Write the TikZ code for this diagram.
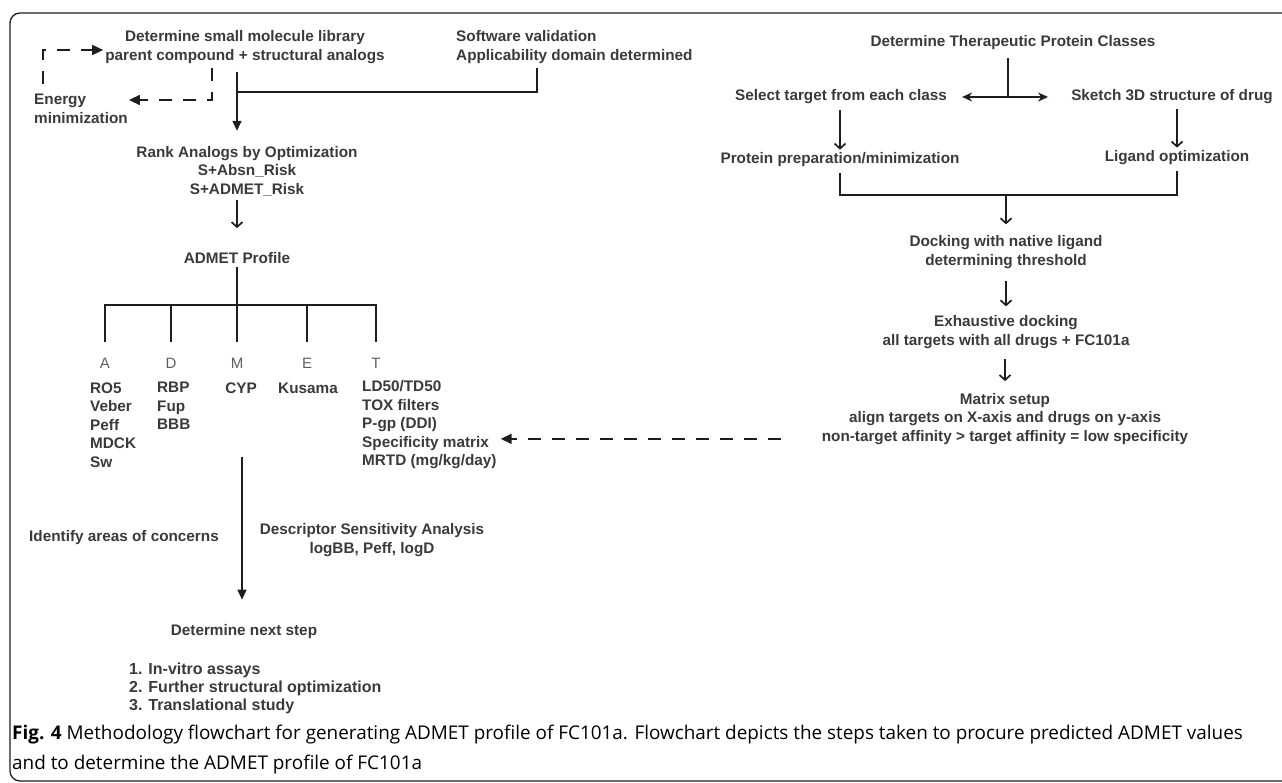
\documentclass[tikz,border=0pt]{standalone}
\usepackage{fontspec}
\setmainfont{Liberation Sans}
\newfontfamily\capfont{Open Sans}
\usepackage{tikz}
\usetikzlibrary{arrows.meta,positioning}
\definecolor{ink}{RGB}{58,58,58}
\definecolor{wire}{RGB}{30,30,30}
\definecolor{lightink}{RGB}{95,95,95}

\begin{document}
\begin{tikzpicture}[x=1pt, y=-1pt,
    step text/.style={font=\bfseries\fontsize{15.3}{18.5}\selectfont, text=ink,
        align=center, inner sep=1pt},
    letter/.style={font=\fontsize{15}{18}\selectfont, text=lightink, inner sep=1pt},
    bigflow/.style={-{Triangle[length=10pt, width=9pt]}, line width=1.4pt, wire},
    downflow/.style={-{Straight Barb[length=5pt, width=11pt]}, line width=1.7pt, wire},
    sideflow/.style={-{Stealth[length=10pt, width=9pt]}, line width=1.6pt, wire},
    dashflow/.style={-{Triangle[length=11pt, width=10pt]}, line width=1.6pt, wire,
        dash pattern=on 13pt off 11pt},
    branch/.style={line width=1.5pt, wire}
]
\useasboundingbox (0,0) rectangle (1282,783);
\draw[line width=1.3pt, wire, rounded corners=10pt] (10,13) rectangle (1310,781);

% left column
\node[step text] (lib) at (245,47)
    {Determine small molecule library\\parent compound + structural analogs};
\node[step text, anchor=west, align=left] (sw) at (455,47)
    {Software validation\\Applicability domain determined};
\node[step text, anchor=west, align=left] (energy) at (33,109)
    {Energy\\minimization};
\node[step text] (rank) at (247,171)
    {Rank Analogs by Optimization\\S+Absn\_Risk\\S+ADMET\_Risk};
\node[step text] (admet) at (237,258) {ADMET Profile};

\node[letter] (la) at (105,363) {A};
\node[letter] (ld) at (171,363) {D};
\node[letter] (lm) at (237,363) {M};
\node[letter] (le) at (307,363) {E};
\node[letter] (lt) at (376,363) {T};

\node[step text, anchor=west, align=left] (alist) at (89,425)
    {RO5\\Veber\\Peff\\MDCK\\Sw};
\node[step text, anchor=west, align=left] (dlist) at (156,406)
    {RBP\\Fup\\BBB};
\node[step text] (mlist) at (241,388) {CYP};
\node[step text] (elist) at (308,388) {Kusama};
\node[step text, anchor=west, align=left] (tlist) at (361,425)
    {LD50/TD50\\TOX filters\\P-gp (DDI)\\Specificity matrix\\MRTD (mg/kg/day)};

\node[step text, anchor=west] (concern) at (28,538) {Identify areas of concerns};
\node[step text] (desc) at (372,540)
    {Descriptor Sensitivity Analysis\\logBB, Peff, logD};
\node[step text] (next) at (244,632) {Determine next step};
\node[step text, anchor=west, align=left,
    font=\bfseries\fontsize{16}{18}\selectfont] (todo) at (128,688)
    {1. In-vitro assays\\2. Further structural optimization\\3. Translational study};

% right column
\node[step text] (ther) at (1013,43) {Determine Therapeutic Protein Classes};
\node[step text] (sel) at (841,97) {Select target from each class};
\node[step text] (sketch) at (1172,97) {Sketch 3D structure of drug};
\node[step text] (prot) at (840,160) {Protein preparation/minimization};
\node[step text] (lig) at (1177,158) {Ligand optimization};
\node[step text] (dock) at (1006,252)
    {Docking with native ligand\\determining threshold};
\node[step text] (exh) at (1006,332)
    {Exhaustive docking\\all targets with all drugs + FC101a};
\node[step text] (mat) at (1005,419)
    {Matrix setup\\align targets on X-axis and drugs on y-axis\\non-target affinity > target affinity = low specificity};

\coordinate (join) at (238,92);
\coordinate (hub) at (237,305);
\coordinate (fork) at (1008,97);
\coordinate (merge) at (1006,195);
\coordinate (drop) at (242,457);
\coordinate (dstart) at ([xshift=-40pt,yshift=7pt]mat.south west);

% connectors
\draw[bigflow, shorten <=7pt, shorten >=14pt] (lib.south -| admet) -- (rank.north -| admet);
\draw[branch] ([xshift=82pt, yshift=-3pt]sw.south west) |- (join);
\draw[dashflow, shorten <=3pt] ([xshift=-33pt]lib.south) |- ([yshift=9pt]energy.east);
\draw[dashflow] ([xshift=10pt, yshift=9pt]energy.north west) |- ([yshift=-3pt, xshift=-1pt]lib.west);
\draw[downflow, shorten <=3pt, shorten >=23pt] (rank.south -| admet) -- (admet.north);
\draw[branch, shorten <=2pt] (admet.south) -- (hub);
\foreach \l in {la,ld,lm,le,lt}
    \draw[branch] (hub) -| ([yshift=15pt]\l.north);
\draw[bigflow, shorten >=24pt] (drop) -- (drop |- next.north);

\draw[branch, shorten <=7pt] (ther.south -| fork) -- (fork);
\draw[sideflow, shorten >=14pt] (fork) -- (sel.east);
\draw[sideflow, shorten >=22pt] (fork) -- (sketch.west);
\draw[downflow, shorten <=5pt, shorten >=2pt] (sel.south -| prot) -- (prot.north);
\draw[downflow, shorten <=4pt, shorten >=2pt] (sketch.south -| lig) -- (lig.north);
\draw[branch, shorten <=5pt, shorten >=5pt] (prot.south) |- (merge) -| (lig.south);
\draw[downflow, shorten >=10pt] (merge) -- (dock.north);
\draw[downflow, shorten <=11pt, shorten >=8pt] (dock.south) -- (exh.north);
\draw[downflow, shorten <=9pt, shorten >=11pt] (exh.south -| mat) -- (mat.north);
\draw[dashflow] (dstart) -- ([xshift=3pt]dstart -| tlist.east);

% caption
\node[anchor=north west, align=left, inner sep=0pt, text=black,
    font=\capfont\fontsize{18.9}{30}\selectfont] (caption) at (12,725)
    {\textbf{Fig. 4} Methodology flowchart for generating ADMET profile of FC101a. Flowchart depicts the steps taken to procure predicted ADMET values\\
     and to determine the ADMET profile of FC101a};
\end{tikzpicture}
\end{document}
